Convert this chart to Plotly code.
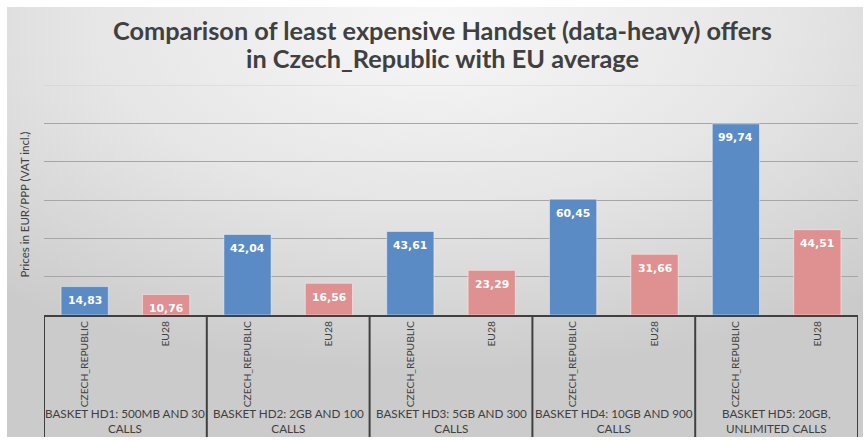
import base64
import plotly.graph_objects as go

# ---- data ----
baskets = ["BASKET HD1: 500MB AND 30<br>CALLS",
           "BASKET HD2: 2GB AND 100<br>CALLS",
           "BASKET HD3: 5GB AND 300<br>CALLS",
           "BASKET HD4: 10GB AND 900<br>CALLS",
           "BASKET HD5: 20GB,<br>UNLIMITED CALLS"]
series_names = ["CZECH_REPUBLIC", "EU28"]
czech_values = [14.83, 42.04, 43.61, 60.45, 99.74]
eu_values = [10.76, 16.56, 23.29, 31.66, 44.51]
y_title = "Prices in EUR/PPP (VAT incl.)"
title_lines = ["Comparison of least expensive Handset (data-heavy) offers",
               "in Czech_Republic with EU average"]

# category ids (unique) and their tick labels
cz_ids = [f"HD{i+1}_CZ" for i in range(len(baskets))]
eu_ids = [f"HD{i+1}_EU" for i in range(len(baskets))]
all_ids = [c for pair in zip(cz_ids, eu_ids) for c in pair]
tick_text = [series_names[k % 2] for k in range(len(all_ids))]

BLUE = "#5b8bc5"
PINK = "#df9090"
DARK = "#404040"

L, R, T, B = 44, 8, 85, 126
W, H = 866, 441
PW, PH = W - L - R, H - T - B


def px_x(p):
    return (p - L) / PW


def px_y(p):
    return (H - B - p) / PH


fig = go.Figure()
fig.add_trace(go.Bar(x=cz_ids, y=czech_values, name=series_names[0],
                     marker=dict(color=BLUE, line=dict(color="rgba(255,255,255,0.45)", width=1))))
fig.add_trace(go.Bar(x=eu_ids, y=eu_values, name=series_names[1],
                     marker=dict(color=PINK, line=dict(color="rgba(255,255,255,0.45)", width=1))))

annotations = []
for cid, v in list(zip(cz_ids, czech_values)) + list(zip(eu_ids, eu_values)):
    annotations.append(dict(x=cid, y=v, xref="x", yref="y", yshift=-14,
                            text=f"{v:.2f}".replace(".", ","), showarrow=False,
                            font=dict(family="DejaVu Sans", size=10.8, color="white", weight="bold")))
for i, b in enumerate(baskets):
    annotations.append(dict(x=2 * i + 0.5, y=px_y(420), xref="x", yref="paper", text=b,
                            showarrow=False, yanchor="middle",
                            font=dict(family="Lato", size=11.7, color=DARK)))
annotations.append(dict(x=px_x(15), y=px_y(205), xref="paper", yref="paper", text=y_title,
                        showarrow=False, textangle=-90,
                        font=dict(family="Lato", size=11.5, color=DARK)))
for line, ypix in zip(title_lines, [30, 58]):
    annotations.append(dict(x=px_x(442), y=px_y(ypix), xref="paper", yref="paper", text=line,
                            showarrow=False, xanchor="center", yanchor="middle",
                            font=dict(family="Lato", size=25.3, color=DARK, weight="bold")))

shapes = []
for k in range(len(baskets) + 1):
    shapes.append(dict(type="line", xref="x", yref="paper", x0=2 * k - 0.5, x1=2 * k - 0.5,
                       y0=0, y1=px_y(437), line=dict(color=DARK, width=2)))
shapes.append(dict(type="line", xref="paper", yref="y", x0=0, x1=1, y0=120, y1=120,
                   line=dict(color="rgba(190,190,190,0.5)", width=1), layer="below"))

svg = ("<svg xmlns='http://www.w3.org/2000/svg' width='856' height='430' preserveAspectRatio='none'>"
       "<defs><radialGradient id='g' cx='50%' cy='5%' r='80%' fx='50%' fy='5%'>"
       "<stop offset='0' stop-color='#f7f7f7'/><stop offset='0.5' stop-color='#e6e6e6'/>"
       "<stop offset='1' stop-color='#cbcbcb'/></radialGradient></defs>"
       "<rect width='856' height='430' fill='url(#g)'/></svg>")
src = "data:image/svg+xml;base64," + base64.b64encode(svg.encode()).decode()

fig.update_layout(
    width=W, height=H,
    margin=dict(l=L, r=R, t=T, b=B),
    paper_bgcolor="white", plot_bgcolor="rgba(0,0,0,0)",
    barmode="overlay", bargap=0.42, showlegend=False,
    xaxis=dict(categoryorder="array", categoryarray=all_ids, tickmode="array",
               tickvals=all_ids, ticktext=tick_text, tickangle=-90,
               tickfont=dict(family="Lato", size=10.3, color=DARK),
               showline=True, linecolor=DARK, linewidth=2, ticks="", showgrid=False,
               range=[-0.5, len(all_ids) - 0.5], automargin=False),
    yaxis=dict(range=[0, 120], tickvals=[20, 40, 60, 80, 100], showticklabels=False,
               showgrid=True, gridcolor="#a6a6a6", gridwidth=1, zeroline=False, showline=False,
               automargin=False),
    annotations=annotations, shapes=shapes,
    images=[dict(source=src, xref="paper", yref="paper", x=px_x(7), y=px_y(7),
                 sizex=856 / PW, sizey=430 / PH, xanchor="left", yanchor="top",
                 sizing="stretch", layer="below")],
)

fig.write_html("out.html", config={"displayModeBar": False},
               post_script="document.body.style.margin='0';")
